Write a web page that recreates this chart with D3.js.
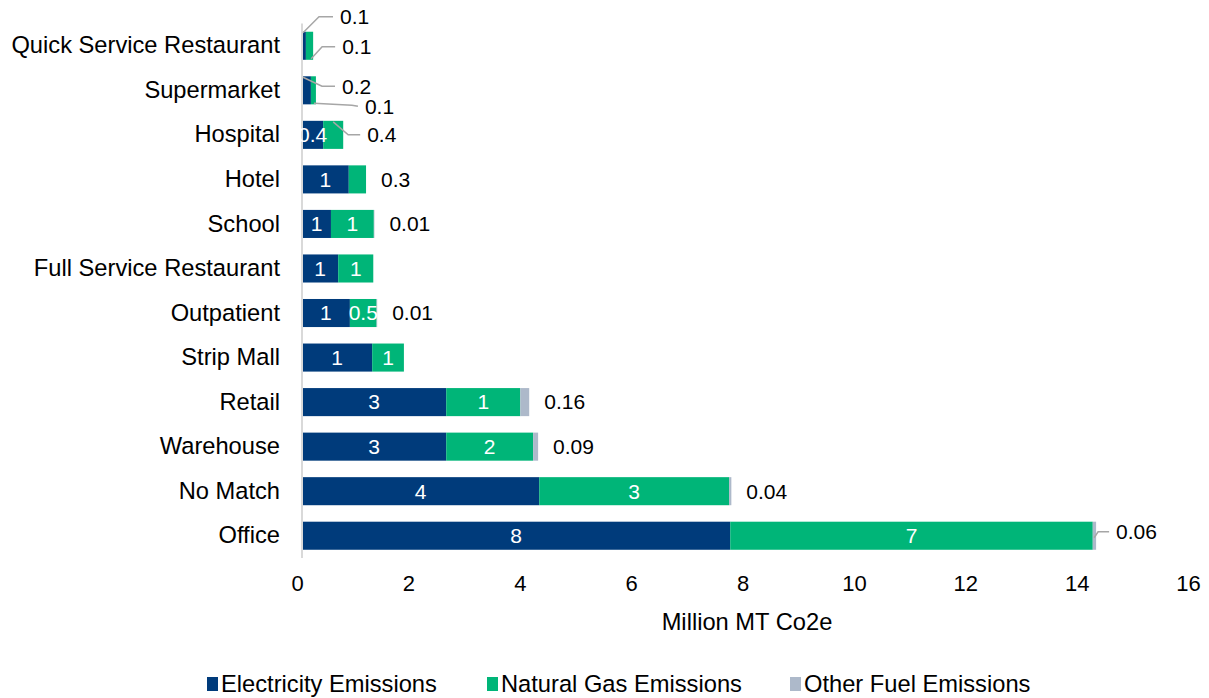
<!DOCTYPE html>
<html>
<head>
<meta charset="utf-8">
<script src="https://cdn.jsdelivr.net/npm/d3@7"></script>
<style>
  body { margin: 0; background: #fff; }
  text { font-family: "Liberation Sans", Arial, sans-serif; }
</style>
</head>
<body>
<svg id="chart" width="1209" height="698"></svg>
<script>
// Building types, top to bottom
const categories = [
  "Quick Service Restaurant", "Supermarket", "Hospital", "Hotel", "School",
  "Full Service Restaurant", "Outpatient", "Strip Mall", "Retail", "Warehouse",
  "No Match", "Office"
];
// Emissions by source, million MT CO2e
const electricity = [0.07, 0.16, 0.38, 0.84, 0.52, 0.65, 0.86, 1.26, 2.59, 2.59, 4.26, 7.69];
const naturalGas  = [0.13, 0.09, 0.36, 0.31, 0.77, 0.63, 0.48, 0.57, 1.33, 1.56, 3.41, 6.51];
const otherFuel   = [0,    0,    0,    0,    0.01, 0,    0.01, 0,    0.16, 0.09, 0.04, 0.06];
const xTicks = [0, 2, 4, 6, 8, 10, 12, 14, 16];

const seriesNames = ["Electricity Emissions", "Natural Gas Emissions", "Other Fuel Emissions"];
const colors = ["#003b7b", "#00b578", "#adb9ca"];

const svg = d3.select("#chart");
const x = d3.scaleLinear().domain([0, 16]).range([302, 1193]);
const y = d3.scaleBand().domain(categories).range([23.5, 558]).paddingInner(0.37).paddingOuter(0.185);

const rows = categories.map((c, i) => ({
  cat: c, vals: [electricity[i], naturalGas[i], otherFuel[i]]
}));

// stacked segments
const segs = [];
rows.forEach(r => {
  let acc = 0;
  r.vals.forEach((v, s) => {
    segs.push({ cat: r.cat, s, v, x0: acc, x1: acc + v });
    acc += v;
  });
});

svg.append("g").selectAll("rect").data(segs.filter(d => d.v > 0)).join("rect")
  .attr("x", d => x(d.x0))
  .attr("y", d => y(d.cat))
  .attr("width", d => x(d.x1) - x(d.x0))
  .attr("height", y.bandwidth())
  .attr("fill", d => colors[d.s]);

// vertical axis line
svg.append("line")
  .attr("x1", x(0)).attr("x2", x(0))
  .attr("y1", y.range()[0]).attr("y2", y.range()[1])
  .attr("stroke", "#d9d9d9").attr("stroke-width", 2);

// category labels
const yAxis = d3.axisLeft(y).tickSize(0).tickPadding(22);
const yg = svg.append("g").attr("transform", `translate(${x(0)},0)`).call(yAxis);
yg.select(".domain").remove();
yg.selectAll("text").attr("font-size", 23.7).attr("fill", "#000")
  .attr("font-family", "Liberation Sans, Arial, sans-serif");

// x tick labels
const xAxis = d3.axisBottom(x).tickValues(xTicks).tickSize(0).tickPadding(0).tickFormat(d3.format("d"));
const xg = svg.append("g").attr("transform", "translate(-5,575)").call(xAxis);
xg.select(".domain").remove();
xg.selectAll("text").attr("font-size", 22).attr("fill", "#000")
  .attr("font-family", "Liberation Sans, Arial, sans-serif");

svg.append("text").attr("x", 747).attr("y", 630).attr("text-anchor", "middle")
  .attr("font-size", 23.7).text("Million MT Co2e");

// data labels
const fmt = (v, s) => s === 2 ? d3.format(".2f")(v) : (v < 0.5 ? d3.format(".1f")(v) : d3.format(".0f")(v));
const labelSize = 21;

// callouts drawn outside the bar with a leader line, offsets from the anchor point
const callouts = {
  "Quick Service Restaurant|0": { ax: "start", ay: "top", pts: [[16, -16], [30, -16]] },
  "Quick Service Restaurant|1": { ax: "end", ay: "bottom", pts: [[11, -12], [24, -12]] },
  "Supermarket|0": { ax: "start", ay: "top", pts: [[19, 9], [32, 9]] },
  "Supermarket|1": { ax: "end", ay: "bottom", pts: [[38, 2], [44, 3]] },
  "Hospital|1": { ax: "mid", ay: "top", pts: [[15, 13], [27, 13]] },
  "Office|2": { ax: "end", ay: "mid", pts: [[4, -6], [15, -6]] }
};
// plain labels placed just past the end of the bar
const trailing = ["Hotel|1", "School|2", "Outpatient|2", "Retail|2", "Warehouse|2", "No Match|2"];

const lab = svg.append("g");
segs.filter(d => d.v > 0).forEach(d => {
  const key = d.cat + "|" + d.s;
  const txt = fmt(d.v, d.s);
  const top = y(d.cat), bot = top + y.bandwidth(), cy = top + y.bandwidth() / 2;
  if (callouts[key]) {
    const c = callouts[key];
    const axx = c.ax === "start" ? x(d.x0) + 1 : c.ax === "end" ? x(d.x1) - 2 : (x(d.x0) + x(d.x1)) / 2;
    const ayy = c.ay === "top" ? top + 1 : c.ay === "mid" ? cy + 2 : bot - 1;
    const pts = [[axx, ayy]].concat(c.pts.map(p => [axx + p[0], ayy + p[1]]));
    lab.append("path").attr("d", d3.line()(pts)).attr("fill", "none")
      .attr("stroke", "#a6a6a6").attr("stroke-width", 1.5);
    const last = pts[pts.length - 1];
    lab.append("text").attr("x", last[0] + 7).attr("y", last[1]).attr("dy", "0.35em")
      .attr("font-size", labelSize).attr("fill", "#000").text(txt);
  } else if (trailing.includes(key)) {
    const rowTotal = rows.find(r => r.cat === d.cat).vals.reduce((a, b) => a + b, 0);
    lab.append("text").attr("x", x(rowTotal) + 15).attr("y", cy).attr("dy", "0.35em")
      .attr("font-size", labelSize).attr("fill", "#000").text(txt);
  } else if (d.s < 2) {
    lab.append("text").attr("x", (x(d.x0) + x(d.x1)) / 2).attr("y", cy).attr("dy", "0.35em")
      .attr("text-anchor", "middle").attr("font-size", labelSize).attr("fill", "#fff").text(txt);
  }
});

// legend
const legendX = [207, 487, 790];
const lg = svg.append("g");
seriesNames.forEach((n, i) => {
  lg.append("rect").attr("x", legendX[i]).attr("y", 677).attr("width", 11).attr("height", 14)
    .attr("fill", colors[i]);
  lg.append("text").attr("x", legendX[i] + 14).attr("y", 684).attr("dy", "0.35em")
    .attr("font-size", 23.7).attr("fill", "#000").text(n);
});
</script>
</body>
</html>
